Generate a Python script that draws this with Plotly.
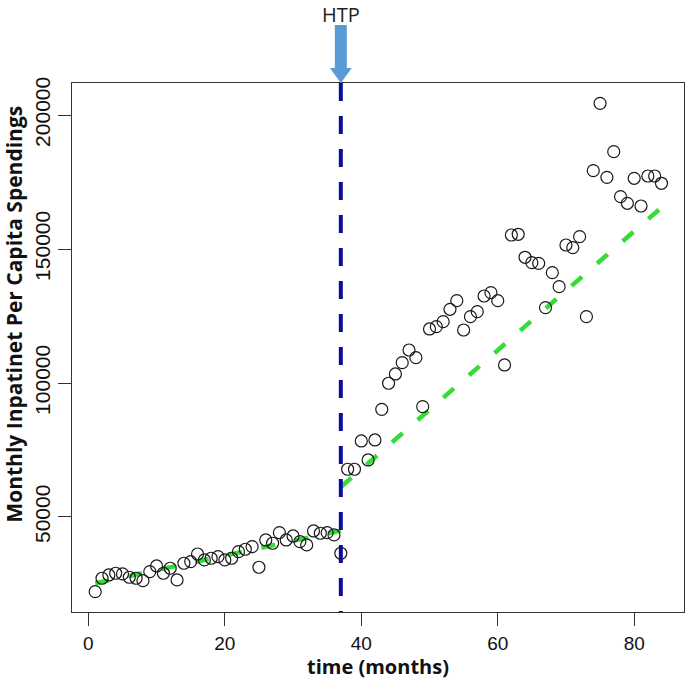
import plotly.graph_objects as go

# ---- data ----
months = list(range(1, 85))
spending = [
    22150, 27140, 28370, 29000, 28750, 27510, 27140, 26250, 29620, 31730,
    29000, 30870, 26510, 32740, 33360, 36200, 33970, 34600, 35200, 33970,
    34600, 37070, 37960, 38940, 31250, 41430, 40200, 44160, 41430, 42920,
    40820, 39570, 44790, 43930, 44160, 43300, 36470, 67810, 67810, 78370,
    71280, 78740, 90180, 99900, 103370, 107590, 112320, 109450, 91170, 120160,
    121010, 122890, 127500, 130720, 119780, 124760, 126620, 132470, 133700, 130720,
    106730, 155230, 155490, 146910, 144900, 144650, 128110, 141170, 135950, 151500,
    150500, 154600, 124760, 179240, 204360, 176750, 186320, 169520, 167050, 176380,
    166050, 177240, 177240, 174520,
]
fit_pre_x = [1, 37]
fit_pre_y = [25250, 44900]
fit_post_x = [37, 84]
fit_post_y = [61200, 165500]
intervention_month = 37
intervention_label = "HTP"
x_ticks = [0, 20, 40, 60, 80]
y_ticks = [50000, 100000, 150000, 200000]
y_tick_text = ["50000", "100000", "150000", "200000"]
x_title = "time (months)"
y_title = "Monthly Inpatinet Per Capita Spendings"

fig = go.Figure()

green = dict(color="#35dc35", width=4.5, dash="14px,20px")
fig.add_trace(go.Scatter(x=fit_pre_x, y=fit_pre_y, mode="lines", line=green,
                         showlegend=False, hoverinfo="skip"))
fig.add_trace(go.Scatter(x=fit_post_x, y=fit_post_y, mode="lines", line=green,
                         showlegend=False, hoverinfo="skip"))
fig.add_trace(go.Scatter(
    x=months, y=spending, mode="markers",
    marker=dict(symbol="circle-open", size=12, color="#1a1a1a",
                line=dict(width=1.2, color="#1a1a1a")),
    showlegend=False))

# intervention line
fig.add_shape(type="line", xref="x", yref="paper",
              x0=intervention_month, x1=intervention_month, y0=1, y1=0,
              line=dict(color="#0c0c9e", width=4, dash="18px,15px"), layer="above")

# arrow above the plot
fig.add_shape(type="path", xref="x", yref="paper",
              xsizemode="pixel", ysizemode="pixel",
              xanchor=intervention_month, yanchor=1,
              path="M -6,58 L 6,58 L 6,15 L 11,15 L 0,0 L -11,15 L -6,15 Z",
              fillcolor="#5b9bd5", line=dict(width=0))

fig.add_annotation(x=intervention_month, xref="x", y=1.1304, yref="paper",
                   text=intervention_label, showarrow=False,
                   font=dict(family="Open Sans", size=20, color="#222222"),
                   yanchor="middle")

# axis titles
fig.add_annotation(x=0.5, xref="paper", y=-0.1021, yref="paper",
                   text="<b>" + x_title + "</b>", showarrow=False,
                   font=dict(family="Open Sans", size=20, color="#111111"),
                   xanchor="center", yanchor="middle")
fig.add_annotation(x=-0.094, xref="paper", y=0.563, yref="paper",
                   text="<b>" + y_title + "</b>", showarrow=False, textangle=-90,
                   font=dict(family="Open Sans", size=21, color="#111111"),
                   xanchor="center", yanchor="middle")

axis_common = dict(
    showgrid=False, zeroline=False, showline=True, mirror=True,
    linecolor="#333333", linewidth=1.2, automargin=False,
    ticks="outside", ticklen=13, tickcolor="#333333", tickwidth=1.2,
)

fig.update_xaxes(range=[-2.4, 87.3], tickvals=x_ticks, ticklabelstandoff=1,
                 tickfont=dict(family="Liberation Sans", size=19, color="#111111"),
                 **axis_common)
fig.update_yaxes(range=[14550, 211940], tickvals=y_ticks, ticktext=y_tick_text,
                 tickangle=-90, ticklabelstandoff=0,
                 tickfont=dict(family="Liberation Sans", size=21, color="#111111"),
                 **axis_common)

fig.update_layout(
    width=685, height=681,
    margin=dict(l=72, r=1, t=83, b=69),
    paper_bgcolor="white", plot_bgcolor="white",
)

# remove the page's default 8px body margin so the figure fills the window exactly
fig.write_html("out.html", config={"displayModeBar": False},
               post_script="document.body.style.margin='0';document.body.style.overflow='hidden';")
